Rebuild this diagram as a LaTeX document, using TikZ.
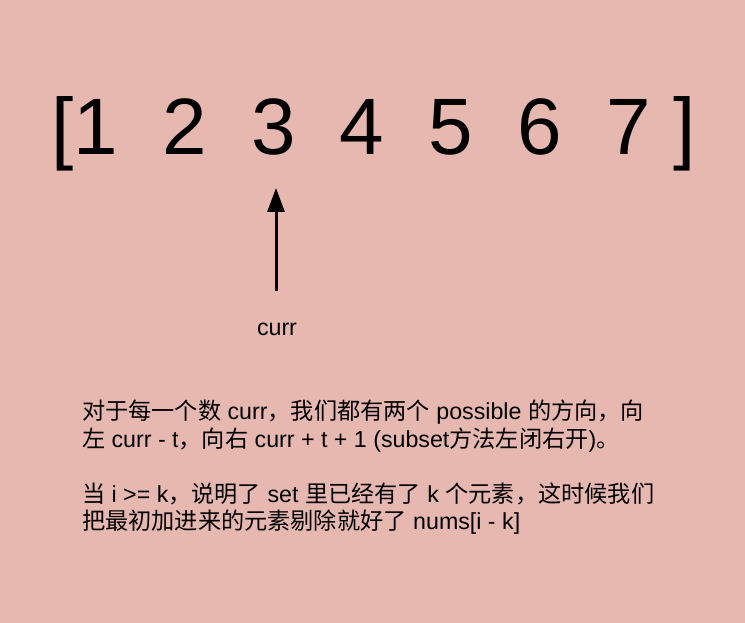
\documentclass[tikz,border=0pt]{standalone}
\usepackage{fontspec}
\setmainfont{Liberation Sans}
\newfontfamily\cjk{Noto Sans CJK SC}
\usetikzlibrary{arrows.meta}
\definecolor{bgpink}{HTML}{E6B8AF}
\begin{document}
\begin{tikzpicture}[x=1pt,y=-1pt,
  every node/.style={inner sep=0pt, outer sep=0pt},
  body/.style={anchor=base west, font=\fontsize{23.2}{27.5}\selectfont},
  pointer/.style={line width=3pt, -{Triangle[length=24pt,width=17pt]}}]
\fill[bgpink] (0,0) rectangle (745,623);
\useasboundingbox (0,0) rectangle (745,623);
\node[anchor=base west, font=\fontsize{80}{96}\selectfont] (nums) at (51,155) {[1\ \ 2\ \ 3\ \ 4\ \ 5\ \ 6\ \ 7\ ]};
\coordinate (tail) at (276,291);
\coordinate (tip) at (276,188);
\draw[pointer] (tail) -- (tip);
\node[anchor=base, font=\fontsize{23.2}{28}\selectfont] (lab) at (277,335) {curr};
\node[body] (l1) at (82,419.5) {{\cjk 对于每一个数} curr{\cjk ，我们都有两个} possible {\cjk 的方向，向}};
\node[body] (l2) at (82,447) {{\cjk 左} curr - t{\cjk ，向右} curr + t + 1 (subset{\cjk 方法左闭右开}){\cjk 。}};
\node[body] (l3) at (82,502) {{\cjk 当} i >= k{\cjk ，说明了} set {\cjk 里已经有了} k {\cjk 个元素，这时候我们}};
\node[body] (l4) at (82,529.5) {{\cjk 把最初加进来的元素剔除就好了} nums[i - k]};
\end{tikzpicture}
\end{document}
